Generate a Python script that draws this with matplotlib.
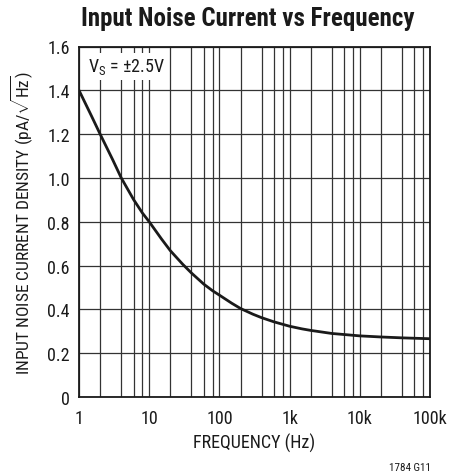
import matplotlib
matplotlib.use("Agg")
import matplotlib.pyplot as plt
from matplotlib.ticker import FixedLocator, NullFormatter

FONT = 'Roboto Condensed'
plt.rcParams['font.family'] = [FONT, 'DejaVu Sans']
plt.rcParams['font.stretch'] = 'condensed'
plt.rcParams['mathtext.fontset'] = 'custom'
plt.rcParams['mathtext.rm'] = FONT
plt.rcParams['mathtext.it'] = FONT
plt.rcParams['mathtext.bf'] = FONT + ':bold'

freq_hz = [1, 1.5, 2, 3, 4, 6, 8, 10, 15, 20, 30, 40, 60, 80, 100, 150, 200, 300, 400, 600,
           1000, 1500, 2000, 4000, 10000, 20000, 40000, 100000]
noise = [1.4, 1.284, 1.2, 1.085, 1.0, 0.901, 0.84, 0.8, 0.721, 0.668, 0.606, 0.566, 0.515, 0.485,
         0.465, 0.428, 0.404, 0.378, 0.362, 0.343, 0.323, 0.311, 0.304, 0.29, 0.279, 0.274, 0.27, 0.266]
xtick_vals = [1, 10, 100, 1000, 10000, 100000]
xtick_labels = ['1', '10', '100', '1k', '10k', '100k']
ytick_vals = [0, 0.2, 0.4, 0.6, 0.8, 1.0, 1.2, 1.4, 1.6]
ytick_labels = ['0', '0.2', '0.4', '0.6', '0.8', '1.0', '1.2', '1.4', '1.6']

W, H = 449, 477
fig = plt.figure(figsize=(W / 100, H / 100), dpi=100)
ax = fig.add_axes([79 / W, 1 - 398 / H, (430 - 79) / W, (398 - 47.5) / H])
ax.set_xscale('log')
ax.set_xlim(1, 100000)
ax.set_ylim(0, 1.6)

grid_x = [m * 10 ** d for d in range(5) for m in (2, 4, 6, 8)] + xtick_vals
for gx in grid_x:
    ax.axvline(gx, color='#333333', lw=0.9, zorder=1)
for gy in ytick_vals:
    ax.axhline(gy, color='#333333', lw=0.9, zorder=1)

ax.plot(freq_hz, noise, color='#1a1a1a', lw=2.0, zorder=3, solid_capstyle='round',
        solid_joinstyle='round')

ax.xaxis.set_major_locator(FixedLocator(xtick_vals))
ax.set_xticklabels(xtick_labels)
ax.xaxis.set_minor_locator(FixedLocator([]))
ax.xaxis.set_minor_formatter(NullFormatter())
ax.set_yticks(ytick_vals)
ax.set_yticklabels(ytick_labels)
ax.tick_params(axis='x', length=0, labelsize=13, pad=9, colors='#1a1a1a')
ax.tick_params(axis='y', length=0, labelsize=13, pad=6.5, colors='#1a1a1a')
for s in ax.spines.values():
    s.set_linewidth(1.3)
    s.set_color('#1a1a1a')

ax.text(0.025, 0.972, r'V$_\mathrm{S}$ = ±2.5V', transform=ax.transAxes, fontsize=13,
        va='top', ha='left', color='#1a1a1a', zorder=4,
        bbox=dict(facecolor='white', edgecolor='none', pad=2.5))

fig.text(254.5 / W, 1 - 443.5 / H, 'FREQUENCY (Hz)', ha='center', va='center',
         fontsize=13, color='#1a1a1a')
fig.text(22 / W, 1 - 223 / H, r'INPUT NOISE CURRENT DENSITY (pA/$\sqrt{\mathrm{Hz}}$)',
         ha='center', va='center', rotation=90, fontsize=12.5, color='#1a1a1a')
fig.text(248 / W, 1 - 19 / H, 'Input Noise Current vs Frequency', ha='center', va='center',
         fontsize=18, fontweight='bold', color='#1a1a1a')
fig.text(410 / W, 1 - 468 / H, '1784 G11', ha='center', va='center', fontsize=8, color='#1a1a1a')

fig.savefig('out.png', dpi=100)
